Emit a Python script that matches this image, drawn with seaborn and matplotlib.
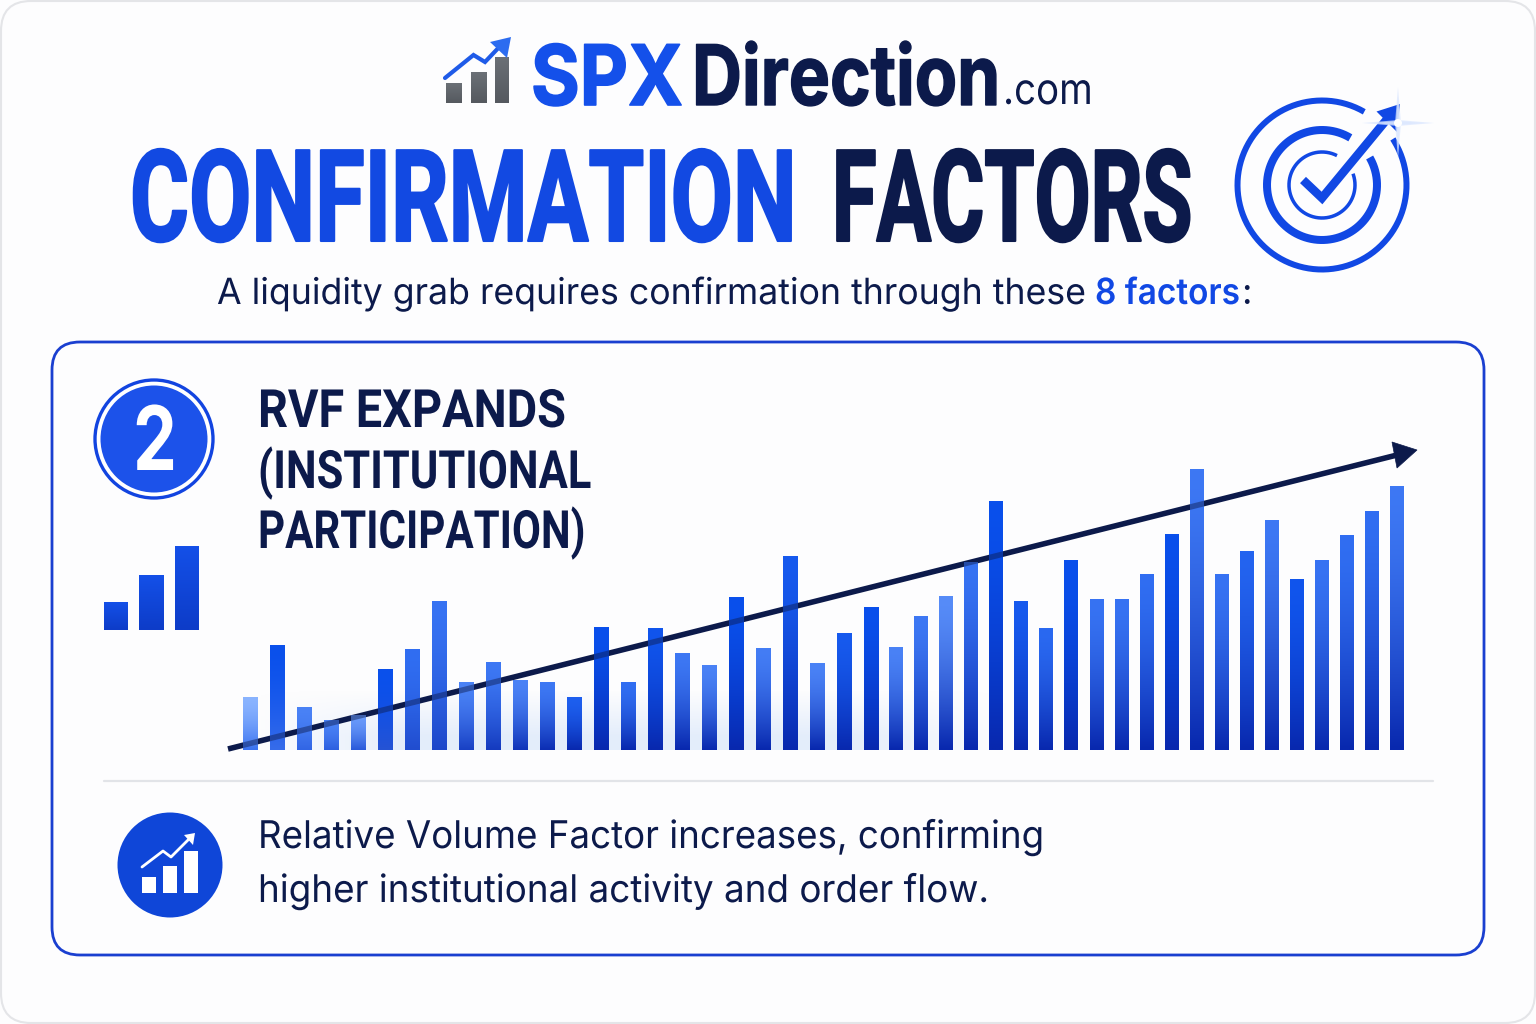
import numpy as np
import pandas as pd
import seaborn as sns
import matplotlib
matplotlib.use("Agg")
import matplotlib.pyplot as plt
from matplotlib.colors import to_rgb
from matplotlib.patches import Circle, FancyBboxPatch, Polygon, Rectangle
from matplotlib.patheffects import AbstractPathEffect
from matplotlib.transforms import Affine2D

# Values
sessions = list(range(1, 46))
rvf = [53, 105, 43, 30, 35, 81, 101, 149, 68, 88, 70, 68, 53, 123, 68, 122, 97, 85, 153, 102, 194, 87,
       117, 143, 103, 134, 154, 188, 249, 149, 122, 190, 151, 151, 176, 216, 281, 176, 199, 230, 171,
       190, 215, 239, 264]
trend_session = [0.185, 45.8]
trend_rvf = [1, 300]

title_left = "CONFIRMATION"
title_right = "FACTORS"
subtitle = "A liquidity grab requires confirmation through these"
heading = ["RVF EXPANDS", "(INSTITUTIONAL", "PARTICIPATION)"]
description = ["Relative Volume Factor increases, confirming", "higher institutional activity and order flow."]

# How pale each bar starts at its top (style only)
bar_light = [2, 0, 1, 1, 1.5, 0, .6, .7, 1, .8, 1, .8, .3, 0, .6, .1, .8, 1, 0, .9, .2, 1, .2, 0, 1, .8,
             1.2, .7, 0, .2, .5, 0, .7, .7, .6, 0, .8, .7, .4, .8, .1, .7, .6, .6, .8]

NAVY = "#0c1a4b"
BLUE = "#1148e4"
SANS = ["Inter", "DejaVu Sans"]


class Stretch(AbstractPathEffect):
    """Scales text around the point (x0, y0), plus an optional stroke to thicken it."""

    def __init__(self, sx, sy, x0, y0, stroke=0):
        self.sx, self.sy, self.x0, self.y0, self.stroke = sx, sy, x0, y0, stroke

    def draw_path(self, renderer, gc, tpath, affine, rgbFace=None):
        scale = Affine2D().translate(-self.x0, -self.y0).scale(self.sx, self.sy).translate(self.x0, self.y0)
        gc0 = renderer.new_gc()
        gc0.copy_properties(gc)
        gc0.set_linewidth(self.stroke)
        gc0.set_foreground(rgbFace)
        renderer.draw_path(gc0, tpath, affine + scale, rgbFace)
        gc0.restore()


sns.set_theme(style="white")
plt.rcParams["font.family"] = SANS

fig = plt.figure(figsize=(15.36, 10.24), dpi=100, facecolor="#fdfdfe")

# Bars, on an axes that runs from x=228 to 1412 px and y=450 to 750 px
ax = fig.add_axes([228 / 1536, 1 - 750 / 1024, 1184 / 1536, 300 / 1024], zorder=1)
df = pd.DataFrame({"session": sessions, "rvf": rvf})
sns.barplot(data=df, x="session", y="rvf", native_scale=True, width=0.55, color=BLUE,
            saturation=1, errorbar=None, ax=ax)


def to_scaled(x):
    x = np.asarray(x, dtype=float)
    return np.where(x <= 24, (x - 1) * 27, 621 + (x - 24) * 25.05)


def from_scaled(v):
    v = np.asarray(v, dtype=float)
    return np.where(v <= 621, v / 27 + 1, (v - 621) / 25.05 + 24)


ax.set_xscale("function", functions=(to_scaled, from_scaled))
ax.set_xlim(0.185, 45.6)
ax.set_ylim(0, 300)
ax.axis("off")

# Everything else goes on one overlay measured in image pixels
fg = fig.add_axes([0, 0, 1, 1], zorder=2)
fg.set_xlim(0, 1536)
fg.set_ylim(1024, 0)
fg.set_autoscale_on(False)
fg.axis("off")
fg.patch.set_alpha(0)


def to_px(x, y):
    return fg.transData.inverted().transform(ax.transData.transform((x, y)))


def grad_rect(x0, x1, y0, y1, top, bottom, alpha=1, zorder=2, power=1.0):
    t = np.linspace(0, 1, 64)[:, None, None] ** power
    img = np.array(to_rgb(top))[None, None, :] * (1 - t) + np.array(to_rgb(bottom))[None, None, :] * t
    fg.imshow(img, extent=(x0, x1, y1, y0), origin="upper", aspect="auto", alpha=alpha,
              interpolation="bilinear", zorder=zorder)


def label(x, y, s, size, color, weight="normal", family=SANS, width=None, stroke=0):
    # size sets the glyph height; the font size is chosen so the text fills width
    t = fg.text(x, y, s, fontsize=size, color=color, fontweight=weight, family=family,
                ha="left", va="baseline", zorder=6)
    if width is not None:
        renderer = fig.canvas.get_renderer()
        fitted = size * width / t.get_window_extent(renderer).width
        t.set_fontsize(fitted)
        sx = width / t.get_window_extent(renderer).width
        t.set_path_effects([Stretch(sx, size / fitted, x, 1024 - y, stroke)])
    return t


def ring(cx, cy, r, w, gap_lo, gap_hi, color=BLUE):
    a = np.radians(np.linspace(gap_hi, gap_lo + 360, 200))
    fg.plot(cx + r * np.cos(a), cy - r * np.sin(a), color=color, lw=w * 0.72, solid_capstyle="butt", zorder=3)


# Page frame, card and divider
fg.add_patch(FancyBboxPatch((1, 1), 1534, 1022, boxstyle="round,pad=0,rounding_size=30",
                            fc="none", ec="#e4e5e8", lw=1.5))
fg.add_patch(FancyBboxPatch((52, 342), 1432, 613, boxstyle="round,pad=0,rounding_size=28",
                            fc="none", ec="#1a3fd0", lw=2))
fg.plot([104, 1433], [781, 781], color="#e2e4e8", lw=1.6)

# Pale glow behind the foot of the left bars
xx, yy = np.meshgrid(np.linspace(0, 1, 200), np.linspace(0, 1, 60))
glow = np.zeros((60, 200, 4))
glow[..., :3] = to_rgb("#cfe0f8")
glow[..., 3] = 0.55 * np.clip(yy * 1.3, 0, 1) * np.clip(np.sin(np.pi * xx) * 1.6, 0, 1)
fg.imshow(glow, extent=(250, 1010, 750, 690), origin="upper", aspect="auto", zorder=1)

# Bar gradients: below the trend arrow fully, then once more over it so it shows through
top_dark, top_pale = np.array(to_rgb("#0a50ec")), np.array(to_rgb("#4a82f6"))
bot_left, bot_right = np.array(to_rgb("#3a72f0")), np.array(to_rgb("#0828ae"))
for i, patch in enumerate(ax.patches):
    box = patch.get_window_extent(fig.canvas.get_renderer())
    (x0, y1), (x1, y0) = fg.transData.inverted().transform([(box.x0, box.y0), (box.x1, box.y1)])
    top = np.clip(top_dark + (top_pale - top_dark) * bar_light[i], 0, 1)
    k = min(1, i / 12)
    bottom = bot_left + (bot_right - bot_left) * k
    grad_rect(x0, x1, y0, y1, top, bottom, zorder=2, power=1.6)
    grad_rect(x0, x1, y0, y1, top, bottom, alpha=0.55, zorder=4, power=1.6)

# Trend arrow
(ax0, ay0), (ax1, ay1) = to_px(trend_session[0], trend_rvf[0]), to_px(trend_session[1], trend_rvf[1])
fg.plot([ax0, ax1 - 16], [ay0, ay1 + 4], color=NAVY, lw=4, solid_capstyle="butt", zorder=3)
fg.add_patch(Polygon([(ax1, ay1), (ax1 - 25, ay1 - 8), (ax1 - 20, ay1 + 18)], fc=NAVY, ec=NAVY, lw=0.5, zorder=3))

# Logo
for x0, x1, y0 in [(446, 461.5, 84), (470.5, 486, 73), (495, 509, 58)]:
    grad_rect(x0, x1, y0, 103.5, "#6b7076", "#55595f")
fg.plot([445, 473.5, 485, 504], [78, 55, 62, 42], color="#1f5be8", lw=3, solid_joinstyle="miter", zorder=3)
fg.add_patch(Polygon([(511, 37), (490, 42), (507, 58)], fc="#2c6cf0", ec="none", zorder=3))
label(531, 105, "SPX", 60, "#1450ea", "bold", width=152, stroke=1.2)
label(692, 105, "Direction", 60, NAVY, "bold", width=308, stroke=1.0)
label(1003, 104, ".com", 31, NAVY, width=90)

# Title
TITLE_FONT = ["Liberation Sans Narrow", "Roboto", "DejaVu Sans"]
label(130, 241, title_left, 92, "#1249e2", "bold", TITLE_FONT, width=667, stroke=1.5)
label(832, 241, title_right, 92, NAVY, "bold", TITLE_FONT, width=360, stroke=1.5)

# Subtitle
label(217, 304, subtitle, 26, NAVY, width=867)
label(1095, 304, "8 factors", 26, BLUE, "semibold", width=145)
label(1241, 304, ":", 26, NAVY)

# Target icon
cx, cy = 1322, 185
ring(cx, cy, 84.5, 6, 33, 60)
ring(cx, cy, 55, 8, 30, 59)
ring(cx, cy, 33, 3.5, 20, 63)
fg.plot([1303, 1322, 1388], [180, 198, 118], color=BLUE, lw=6.2, solid_joinstyle="miter", solid_capstyle="butt", zorder=3)
fg.add_patch(Polygon([(1376.5, 111.5), (1400, 104), (1397, 132)], fc=BLUE, ec="none", zorder=3))
for w, h in [(3, 36), (36, 3), (2, 26), (26, 2)]:
    fg.add_patch(Polygon([(1398 - w, 123), (1398, 123 - h), (1398 + w, 123), (1398, 123 + h)],
                         fc="#dbe7ff", ec="none", alpha=0.7, zorder=4))
fg.add_patch(Circle((1398, 123), 4, fc="white", ec="none", zorder=4))

# Number badge and small bars
fg.add_patch(Circle((154, 439), 59, fc="white", ec="#1244e0", lw=2.4, zorder=3))
fg.add_patch(Circle((154, 439), 53.5, fc="#1c52ea", ec="none", zorder=3))
label(133, 470, "2", 64, "white", "bold", width=44)
for x0, x1, y0 in [(104, 128, 602), (139, 164, 575), (175, 199, 546)]:
    grad_rect(x0, x1, y0, 630, "#1450e8", "#0d3cc8")

# Heading
HEAD_FONT = ["Roboto", "DejaVu Sans"]
for text, base, w in zip(heading, [427, 488, 548], [308, 333, 328]):
    label(258, base, text, 38, NAVY, "bold", HEAD_FONT, width=w)

# Footer icon and description
fg.add_patch(Circle((170, 865), 52.5, fc="#0f46d8", ec="none", zorder=3))
for x0, x1, y0 in [(142, 156, 877), (163, 177, 866), (184, 198, 851)]:
    fg.add_patch(Rectangle((x0, y0), x1 - x0, 893 - y0, fc="white", ec="none", zorder=4))
fg.plot([142, 163, 171, 190], [867, 851, 857, 838], color="white", lw=2, zorder=4)
fg.add_patch(Polygon([(195, 833), (184, 835), (193, 845)], fc="white", ec="none", zorder=4))
for text, base, w in zip(description, [848, 902], [787, 732]):
    label(258, base, text, 27.5, NAVY, width=w)

fig.savefig("out.png", dpi=100, facecolor=fig.get_facecolor())
